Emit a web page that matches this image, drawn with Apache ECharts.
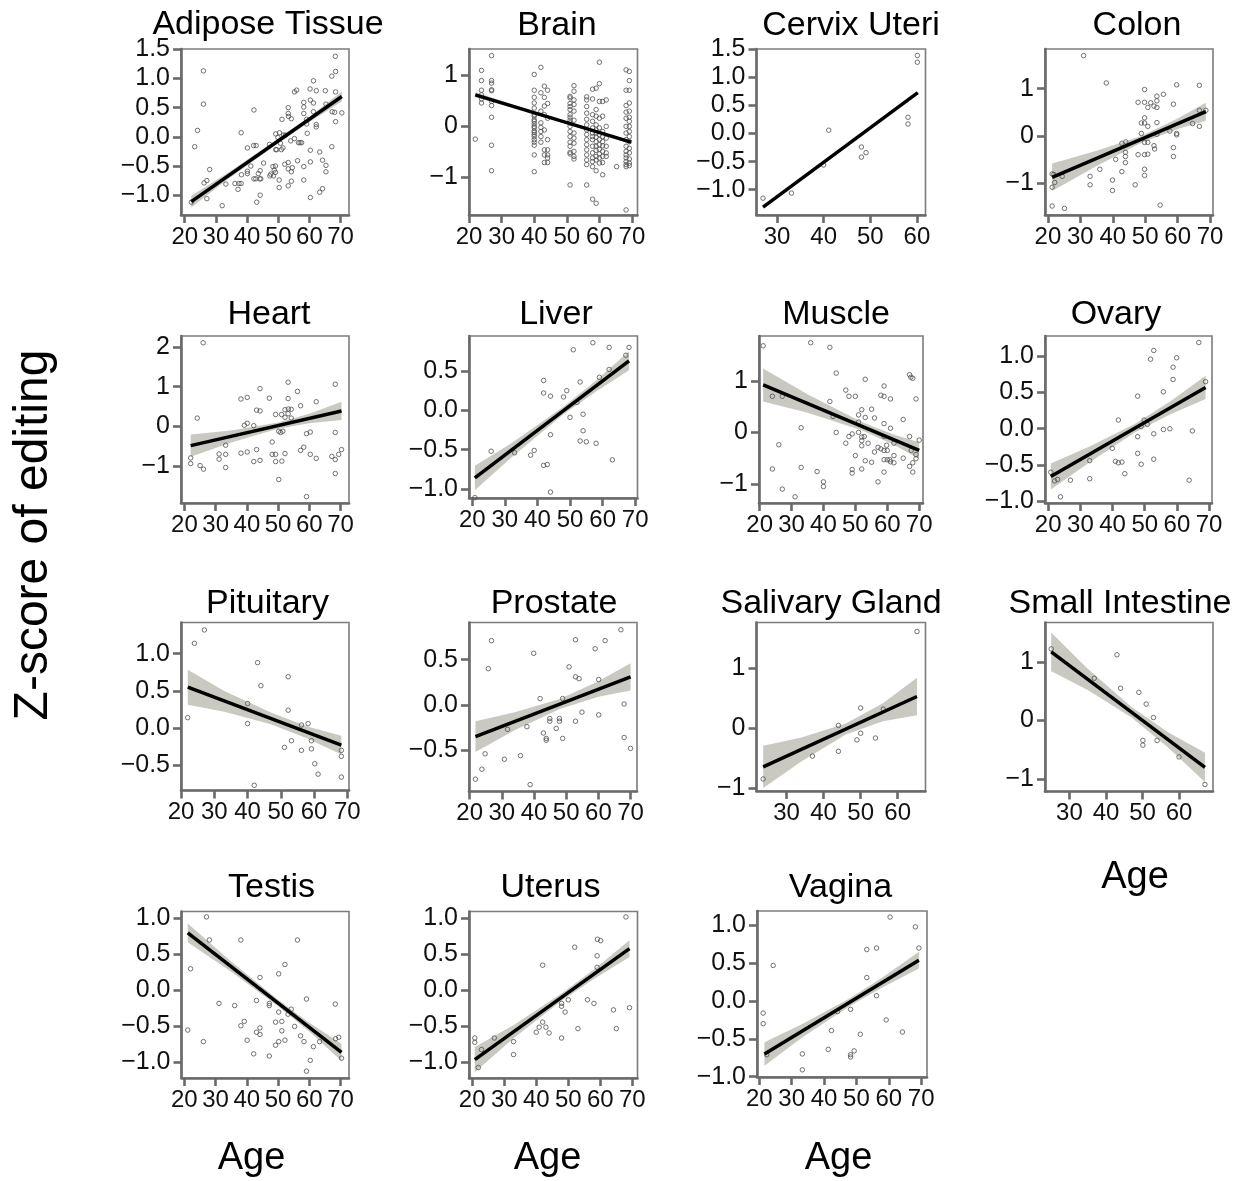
<!DOCTYPE html>
<html><head><meta charset="utf-8">
<script src="https://cdn.jsdelivr.net/npm/echarts@6/dist/echarts.min.js"></script>
<style>html,body{margin:0;padding:0;background:#fff}#c{width:1243px;height:1181px}</style>
</head><body><div id="c"></div><script>
// ---------------- DATA ----------------
const panelTitles = ['Adipose Tissue','Brain','Cervix Uteri','Colon','Heart','Liver','Muscle','Ovary','Pituitary','Prostate','Salivary Gland','Small Intestine','Testis','Uterus','Vagina'];
const ageTicksFull = [20,30,40,50,60,70];
const ageTicksShort = [30,40,50,60];
const zTicksA = [-1,-0.5,0,0.5,1,1.5];
const zTicksB = [-1,0,1];
const zTicksC = [-1,0,1,2];
const zTicksD = [-1,-0.5,0,0.5];
const zTicksE = [-1,-0.5,0,0.5,1];
const zTicksF = [-0.5,0,0.5,1];
const zTicksG = [-0.5,0,0.5];

const adiposePts = [[22.1,-1.12],[23.2,-0.17],[24.1,0.11],[26.0,1.13],[26.0,0.56],[26.2,-0.79],[27.1,-0.75],[27.1,-1.06],[28.0,-0.56],[32.0,-1.18],[33.2,-0.81],[36.1,-0.80],[37.1,-0.90],[37.4,-0.80],[38.1,-0.80],[38.1,0.07],[38.2,-0.65],[40.1,-0.19],[40.1,-0.63],[40.1,-0.59],[41.2,-0.50],[42.1,-0.15],[42.2,0.46],[42.9,-0.15],[42.2,-0.72],[42.8,-0.72],[43.1,-1.12],[43.6,-0.63],[44.1,-0.72],[44.2,-1.0],[44.4,-0.72],[44.2,-0.58],[45.3,-0.45],[47.2,-0.13],[47.3,-0.67],[47.6,-0.64],[48.3,-0.51],[48.5,-0.67],[48.7,-0.57],[49.1,-0.50],[49.1,-0.61],[49.2,-0.22],[49.5,-0.22],[49.2,0.05],[49.9,-0.01],[50.4,0.07],[50.3,-0.74],[50.3,-0.87],[50.7,-0.11],[51.0,-0.22],[51.2,0.30],[51.5,-0.19],[51.7,0.03],[52.1,-0.47],[52.3,0.03],[53.2,0.50],[53.2,0.40],[53.3,0.35],[53.2,-0.44],[53.2,-0.55],[53.2,-0.84],[54.0,-0.07],[54.2,0.31],[54.2,-0.60],[54.2,-0.76],[54.5,-0.53],[55.2,-0.03],[55.2,0.77],[55.9,0.80],[56.2,-0.41],[56.5,-0.10],[57.0,-0.10],[57.5,-0.10],[58.2,0.59],[58.2,0.51],[58.2,0.40],[58.2,-0.51],[58.2,-0.74],[59.1,0.30],[59.1,0.22],[59.3,0.06],[60.2,0.82],[60.3,0.63],[60.3,-0.23],[60.3,-0.43],[60.3,-1.04],[61.3,0.58],[61.3,0.96],[61.3,0.43],[62.2,0.79],[62.2,0.21],[62.2,0.17],[63.3,-0.26],[63.3,-0.95],[64.2,-0.89],[64.2,-0.40],[65.1,0.79],[65.3,-0.49],[65.3,-0.60],[65.3,0.56],[67.2,-0.17],[67.2,1.04],[67.3,0.43],[68.1,0.42],[68.3,1.38],[68.4,1.12],[68.4,0.77],[68.4,0.26],[70.4,0.41]];
const adiposeFit = [[22.1,-1.11],[70.4,0.69]];
const adiposeBand = [[22.1,-1.21,-1.01],[34,-0.72,-0.61],[50,-0.11,-0.03],[60,0.255,0.345],[70.4,0.605,0.775]];

const brainCols = [
 [21.9,[-0.25]],
 [23.8,[1.10,0.90,0.71,0.62,0.54,0.46]],
 [26.9,[1.39,0.90,0.85,0.72,0.70,0.49,0.41,0.18,-0.37,-0.87]],
 [40.0,[1.02,0.71,0.57,0.46,0.36,0.23,0.10,0.0,-0.09,-0.16,-0.26,-0.37,-0.56,-0.89,0.20,0.13,0.05,-0.03,-0.12,-0.20,-0.31]],
 [42.05,[1.16,0.66,0.30,0.07,-0.02,-0.10,-0.20,-0.31]],
 [43.1,[0.79,0.57,0.23,-0.07,-0.46,-0.56,-0.71,0.40]],
 [44.1,[0.71,0.45,0.16,-0.26,-0.46,-0.56,-0.71,-0.62]],
 [51.0,[0.59,0.56,0.45,0.39,0.33,0.23,0.18,0.12,0.07,0.0,-0.10,-0.20,-0.31,-0.39,-0.51,-0.54,-1.15]],
 [52.2,[0.80,0.69,0.52,0.43,0.30,0.12,-0.13,-0.23,-0.33,-0.49,-0.59,-0.64]],
 [56.1,[0.58,0.52,0.39,0.26,0.14,0.03,-0.07,-0.16,-0.26,-0.36,-0.46,-0.56,-0.66,-0.75,-1.15]],
 [57.9,[0.73,0.54,0.23,0.10,-0.03,-0.13,-0.20,-0.26,-0.39,-0.52,-0.62,-0.69,-0.79,-1.43]],
 [59.0,[0.75,0.33,0.20,0.03,-0.07,-0.13,-0.21,-0.30,-0.39,-0.47,-0.59,-0.66,-0.87,-1.51]],
 [60.0,[1.26,0.84,0.49,0.16,-0.03,-0.16,-0.26,-0.36,-0.45,-0.54,-0.62,-0.72]],
 [61.0,[0.49,0.20,-0.10,-0.20,-0.30,-0.38,-0.49,-0.59,-0.71,-0.95]],
 [62.1,[0.52,0.0,-0.23,-0.39,-0.52,-0.59]],
 [65.3,[-0.79]],
 [68.2,[1.11,0.71,0.41,0.28,0.16,0.0,-0.13,-0.26,-0.39,-0.49,-0.56,-0.62,-0.69,-0.75,-0.79,-1.64]],
 [69.2,[1.08,0.90,0.71,0.46,0.30,0.18,0.10,0.0,-0.10,-0.20,-0.30,-0.43,-0.52,-0.64,-0.72,-0.77]]
];
const brainFit = [[21.9,0.62],[69.7,-0.31]];
const brainBand = [[21.9,0.57,0.67],[45,0.15,0.19],[69.7,-0.345,-0.275]];

const cervixPts = [[27.0,-1.15],[33.1,-1.06],[40.0,-0.56],[41.1,0.06],[48.1,-0.24],[48.1,-0.42],[49.1,-0.34],[58.1,0.29],[58.1,0.17],[60.1,1.39],[60.1,1.27]];
const cervixFit = [[27.0,-1.31],[60.2,0.73]];
const cervixBand = [];

const colonPts = [[31.0,1.70],[38.0,1.12],[21.3,-0.81],[21.8,-0.82],[22.1,-0.99],[21.3,-1.09],[21.3,-1.49],[25.1,-1.54],[24.4,-0.86],[33.0,-0.86],[33.0,-1.04],[36.0,-0.71],[39.9,-0.94],[39.9,-1.16],[40.9,-0.50],[42.8,-0.76],[42.8,-0.16],[44.0,-0.13],[43.9,-0.35],[43.9,-0.44],[43.9,-0.57],[46.9,-1.04],[47.8,0.71],[47.8,-0.40],[48.8,0.05],[48.8,0.27],[49.8,0.98],[49.8,0.71],[49.8,0.38],[49.8,0.27],[49.8,-0.14],[49.8,-0.40],[49.8,-0.71],[49.8,-0.84],[50.8,0.60],[50.8,0.20],[50.8,-0.14],[50.8,-0.39],[51.7,0.70],[52.7,0.63],[52.7,-0.21],[52.9,-0.28],[53.6,0.60],[53.6,0.74],[53.6,0.84],[53.6,0.28],[53.6,0.03],[54.6,-1.47],[55.6,0.88],[57.6,0.10],[58.7,0.67],[58.7,-0.25],[58.7,-0.44],[59.7,1.08],[59.7,0.05],[59.7,0.02],[64.6,0.26],[66.7,1.07],[66.7,0.54],[66.7,0.20],[68.7,0.54]];
const colonFit = [[21.3,-0.88],[68.7,0.51]];
const colonBand = [[21.3,-1.17,-0.59],[35,-0.64,-0.32],[49,-0.14,0.0],[60,0.145,0.365],[68.7,0.32,0.70]];

const heartPts = [[26.0,2.10],[22.0,-0.79],[22.0,-0.93],[24.1,0.21],[25.0,-0.98],[26.1,-1.07],[31.1,-0.69],[31.1,-0.82],[33.2,-0.47],[33.2,-0.70],[33.2,-1.03],[38.1,0.69],[38.1,-0.67],[39.2,0.03],[40.1,0.73],[40.1,0.08],[40.1,-0.64],[42.2,0.02],[42.2,-0.88],[43.1,0.41],[43.1,-0.58],[44.2,0.95],[44.2,0.39],[44.2,-0.85],[47.2,0.71],[48.1,-0.39],[48.1,-0.70],[49.2,0.30],[49.2,-0.70],[49.2,-0.88],[50.2,-0.12],[50.2,-1.33],[50.8,-0.15],[51.1,0.30],[51.2,-0.87],[51.5,-0.12],[52.2,0.23],[52.2,0.42],[52.2,-0.68],[53.2,1.11],[53.2,0.70],[53.2,0.32],[53.3,0.44],[54.2,0.43],[54.2,0.21],[56.2,0.88],[57.2,0.52],[57.2,-0.60],[58.2,-0.52],[59.1,-0.18],[59.1,-1.76],[60.3,-0.14],[60.3,-0.70],[62.2,0.62],[62.2,-0.80],[67.2,-0.75],[68.3,1.06],[68.3,-0.15],[68.3,-0.83],[68.3,-1.18],[69.4,-0.70],[70.3,-0.58]];
const heartFit = [[22.0,-0.48],[70.3,0.39]];
const heartBand = [[22,-0.76,-0.20],[35,-0.40,-0.10],[50,-0.06,0.10],[60,0.08,0.32],[70.3,0.16,0.62]];

const liverPts = [[20.8,-1.11],[25.8,-0.52],[33.0,-0.54],[37.9,-0.57],[39.0,-0.51],[41.9,0.38],[41.9,0.22],[41.9,-0.70],[43.0,-0.69],[44.0,0.18],[44.0,-0.31],[44.0,-1.04],[48.0,0.17],[49.0,0.25],[50.0,-0.09],[51.0,0.77],[52.1,0.10],[53.1,0.36],[53.1,-0.39],[54.0,-0.05],[54.0,-0.26],[55.0,-0.40],[57.0,0.86],[58.0,-0.42],[59.0,0.42],[62.0,0.80],[62.0,0.52],[63.0,-0.63],[67.1,0.70],[68.1,0.80]];
const liverFit = [[20.8,-0.86],[68.1,0.63]];
const liverBand = [[20.8,-1.015,-0.705],[32,-0.60,-0.42],[48,-0.05,0.045],[58,0.24,0.38],[68.1,0.51,0.75]];

const musclePts = [[21.1,1.68],[24.0,0.70],[24.0,-0.71],[26.0,-0.24],[27.1,0.70],[27.1,-1.10],[31.1,-1.25],[33.0,0.09],[33.0,-0.68],[36.0,1.74],[38.0,-0.76],[40.0,-0.96],[40.0,-1.05],[42.0,1.65],[42.0,0.60],[43.0,0.31],[44.0,1.15],[44.0,0.0],[47.0,0.82],[47.0,-0.21],[48.0,0.70],[48.0,-0.08],[49.0,-0.03],[49.0,-0.72],[49.0,-0.79],[50.0,0.70],[50.0,-0.45],[51.0,0.34],[51.0,0.20],[51.0,0.0],[52.0,0.44],[52.0,-0.09],[52.0,-0.16],[52.0,-0.26],[52.0,-0.71],[52.8,-0.08],[53.1,1.03],[53.1,0.29],[53.1,-0.55],[54.0,-0.21],[55.1,0.45],[55.1,-0.58],[56.0,0.28],[56.0,-0.38],[57.1,-0.29],[57.1,-0.96],[58.0,0.72],[58.0,-0.32],[59.0,0.90],[59.0,0.70],[59.0,0.17],[59.0,-0.08],[59.0,-0.35],[59.0,-0.53],[59.0,-0.77],[59.8,-0.25],[60.0,-0.35],[60.0,-0.53],[60.8,-0.53],[61.0,0.65],[61.0,0.08],[61.0,-0.57],[62.1,-0.59],[62.1,-0.45],[62.1,-0.21],[65.0,0.25],[65.0,-0.50],[67.0,1.12],[67.4,1.07],[68.0,1.05],[67.0,-0.08],[67.0,-0.66],[68.0,-0.59],[68.0,-0.77],[69.0,0.65],[69.0,-0.43],[69.0,-0.51],[70.0,-0.15],[67.5,-0.35]];
const muscleFit = [[21.1,0.92],[70.0,-0.35]];
const muscleBand = [[21.1,0.60,1.24],[35,0.38,0.74],[52,0.04,0.20],[62,-0.24,-0.04],[70,-0.51,-0.19]];

const ovaryPts = [[20.8,-0.60],[22.0,-0.72],[22.9,-0.70],[23.8,-0.94],[26.9,-0.71],[32.9,-0.44],[32.9,-0.69],[39.9,-0.27],[40.9,-0.45],[41.8,0.12],[41.8,-0.47],[42.9,-0.46],[43.8,-0.62],[47.8,0.45],[47.8,-0.11],[47.8,-0.34],[48.9,0.03],[48.9,-0.49],[49.8,0.12],[50.8,0.06],[51.8,0.96],[52.8,1.08],[52.8,-0.07],[52.8,-0.42],[55.8,0.51],[55.8,-0.01],[57.8,0.0],[58.8,0.85],[58.8,0.68],[59.9,0.98],[63.8,-0.71],[64.8,-0.03],[66.8,1.19],[68.9,0.65]];
const ovaryFit = [[20.8,-0.66],[68.9,0.57]];
const ovaryBand = [[20.8,-0.84,-0.48],[33,-0.46,-0.24],[47,-0.05,0.07],[58,0.20,0.38],[68.9,0.41,0.73]];

const pituitaryPts = [[22.0,0.14],[24.0,1.14],[27.0,1.32],[40.0,0.33],[40.0,0.06],[42.0,-0.77],[43.0,0.88],[44.0,0.57],[51.1,-0.26],[52.2,0.69],[52.2,0.24],[53.2,-0.17],[56.2,0.04],[56.2,-0.30],[58.2,0.06],[59.2,-0.17],[59.2,-0.28],[60.2,-0.48],[61.2,-0.62],[68.2,-0.30],[68.2,-0.38],[68.2,-0.66]];
const pituitaryFit = [[22.0,0.55],[68.2,-0.23]];
const pituitaryBand = [[22,0.315,0.785],[33,0.22,0.50],[47,0.05,0.21],[58,-0.14,0.02],[68.2,-0.355,-0.105]];

const prostatePts = [[21.8,-0.82],[23.8,-0.71],[24.8,-0.54],[25.8,0.40],[26.8,0.71],[30.8,-0.60],[31.8,-0.27],[35.8,-0.56],[37.8,-0.24],[38.8,-0.88],[39.9,0.57],[41.9,0.07],[42.9,-0.31],[43.8,-0.37],[43.8,-0.39],[44.9,-0.15],[44.9,-0.18],[46.9,-0.26],[47.9,-0.15],[47.9,-0.18],[48.9,-0.37],[48.9,0.07],[50.9,0.42],[52.9,0.72],[52.9,0.31],[54.0,0.29],[52.9,-0.18],[54.9,-0.08],[59.0,0.62],[60.1,0.28],[60.1,-0.11],[62.1,0.71],[67.0,0.83],[68.0,0.01],[68.0,-0.36],[70.0,-0.48]];
const prostateFit = [[21.8,-0.35],[70.0,0.31]];
const prostateBand = [[21.8,-0.52,-0.18],[34,-0.28,-0.08],[48,-0.045,0.065],[60,0.09,0.26],[70,0.16,0.46]];

const salivaryPts = [[23.7,-0.84],[37.0,-0.46],[44.0,0.05],[44.0,-0.38],[49.0,-0.19],[50.0,0.34],[50.0,-0.08],[54.0,-0.16],[56.1,0.32],[65.2,1.61]];
const salivaryFit = [[23.7,-0.64],[65.2,0.53]];
const salivaryBand = [[23.7,-0.99,-0.29],[34,-0.55,-0.15],[46,-0.10,0.08],[56,0.12,0.42],[65.2,0.22,0.84]];

const smallIntPts = [[25.0,1.22],[36.8,0.72],[43.0,1.12],[44.0,0.55],[49.0,0.48],[51.0,0.28],[50.1,-0.34],[50.1,-0.42],[53.0,0.05],[54.0,-0.34],[60.0,-0.62],[67.1,-1.09]];
const smallIntFit = [[25.0,1.17],[67.1,-0.80]];
const smallIntBand = [[25,0.84,1.50],[35,0.52,0.88],[47,0.05,0.23],[57,-0.46,-0.20],[67.1,-1.05,-0.55]];

const testisPts = [[21.1,-0.55],[22.0,0.30],[26.1,-0.71],[27.1,1.02],[28.0,0.70],[31.1,-0.18],[36.1,-0.21],[38.1,0.70],[38.1,-0.49],[39.2,-0.43],[40.1,-0.69],[42.2,-0.88],[43.1,-0.14],[43.1,-0.58],[44.2,0.18],[44.2,-0.52],[44.2,-0.61],[47.2,-0.18],[47.2,-0.21],[47.2,-0.91],[49.2,-0.44],[49.2,-0.76],[50.2,0.23],[50.2,-0.30],[50.2,-0.71],[51.2,-0.43],[51.2,-0.56],[52.2,0.36],[52.2,-0.69],[53.2,-0.33],[54.2,-0.26],[55.3,-0.50],[56.2,0.70],[57.2,-0.63],[58.3,-0.71],[59.1,-0.12],[59.1,-1.12],[60.3,-0.97],[61.3,-0.78],[63.3,-0.71],[68.3,-0.19],[68.4,-0.67],[69.4,-0.65],[70.3,-0.94]];
const testisFit = [[21.1,0.80],[70.3,-0.86]];
const testisBand = [[21.1,0.67,0.93],[35,0.26,0.40],[50,-0.22,-0.13],[60,-0.57,-0.45],[70.3,-0.98,-0.74]];

const uterusPts = [[20.8,-0.66],[20.8,-0.72],[21.9,-1.07],[22.9,-0.82],[26.9,-0.66],[32.9,-0.71],[32.9,-0.89],[40.0,-0.58],[40.9,-0.51],[42.0,0.35],[42.0,-0.44],[43.0,-0.51],[44.0,-0.59],[47.9,-0.18],[47.9,-0.22],[47.9,-0.66],[49.0,-0.30],[50.0,-0.13],[52.0,0.60],[53.0,-0.53],[56.0,-0.13],[58.0,-0.18],[59.0,0.48],[59.0,0.32],[59.1,0.71],[60.1,0.69],[64.1,-0.27],[65.0,-0.53],[68.0,1.02],[69.1,-0.24]];
const uterusFit = [[20.8,-0.96],[69.1,0.58]];
const uterusBand = [[20.8,-1.135,-0.785],[33,-0.66,-0.48],[48,-0.14,-0.04],[58,0.16,0.29],[69.1,0.465,0.695]];

const vaginaPts = [[21.2,-0.16],[21.2,-0.30],[22.3,-0.71],[24.3,0.47],[33.3,-0.70],[33.3,-0.91],[41.3,-0.64],[42.3,-0.39],[44.2,-0.14],[48.2,-0.11],[48.2,-0.71],[48.2,-0.74],[49.3,-0.66],[51.2,-0.44],[53.2,0.68],[53.2,0.31],[56.2,0.70],[56.2,0.07],[59.2,-0.25],[60.4,1.11],[64.2,-0.41],[68.2,0.98],[69.3,0.70]];
const vaginaFit = [[21.6,-0.70],[69.3,0.54]];
const vaginaBand = [[21.6,-0.855,-0.545],[33,-0.49,-0.31],[48,-0.065,0.035],[58,0.18,0.31],[69.3,0.43,0.65]];

// ---------------- LAYOUT ----------------
const brainPts = [];
brainCols.forEach(c => c[1].forEach(z => brainPts.push([c[0], z])));

const FONT = '"Liberation Sans", Arial, Helvetica, sans-serif';
const panels = [
 {pts:adiposePts, fit:adiposeFit, band:adiposeBand, box:[181,49,168,166], xr:[18.8,72.7], yr:[-1.34,1.505], xt:ageTicksFull, yt:zTicksA, d:1, tx:268, ty:25},
 {pts:brainPts, fit:brainFit, band:brainBand, box:[469,49,168.5,166], xr:[19.97,71.7], yr:[-1.74,1.52], xt:ageTicksFull, yt:zTicksB, d:0, tx:557, ty:26},
 {pts:cervixPts, fit:cervixFit, band:cervixBand, box:[756.5,49,169,166], xr:[25.6,61.85], yr:[-1.45,1.505], xt:ageTicksShort, yt:zTicksA, d:1, tx:851, ty:26},
 {pts:colonPts, fit:colonFit, band:colonBand, box:[1045,49,168,166], xr:[19.1,70.9], yr:[-1.68,1.84], xt:ageTicksFull, yt:zTicksB, d:0, tx:1137, ty:26},
 {pts:heartPts, fit:heartFit, band:heartBand, box:[181,336,168,167], xr:[18.9,72.7], yr:[-1.92,2.27], xt:ageTicksFull, yt:zTicksC, d:0, tx:269, ty:314.5},
 {pts:liverPts, fit:liverFit, band:liverBand, box:[469,336,168.5,162], xr:[19.0,70.7], yr:[-1.115,0.945], xt:ageTicksFull, yt:zTicksD, d:1, tx:556, ty:314.5},
 {pts:musclePts, fit:muscleFit, band:muscleBand, box:[759,336,164,167], xr:[19.8,71.2], yr:[-1.37,1.87], xt:ageTicksFull, yt:zTicksB, d:0, tx:836, ty:314.5},
 {pts:ovaryPts, fit:ovaryFit, band:ovaryBand, box:[1045,336,167,167], xr:[19.0,70.9], yr:[-1.025,1.28], xt:ageTicksFull, yt:zTicksE, d:1, tx:1116, ty:314.5},
 {pts:pituitaryPts, fit:pituitaryFit, band:pituitaryBand, box:[181,622.5,168,168], xr:[19.97,70.5], yr:[-0.84,1.42], xt:ageTicksFull, yt:zTicksF, d:1, tx:267.5, ty:604},
 {pts:prostatePts, fit:prostateFit, band:prostateBand, box:[469,622.5,168,169], xr:[19.8,72.0], yr:[-0.956,0.91], xt:ageTicksFull, yt:zTicksG, d:1, tx:554, ty:604},
 {pts:salivaryPts, fit:salivaryFit, band:salivaryBand, box:[756.5,622.5,169,168.5], xr:[21.9,67.5], yr:[-1.04,1.76], xt:ageTicksShort, yt:zTicksB, d:0, tx:831, ty:604},
 {pts:smallIntPts, fit:smallIntFit, band:smallIntBand, box:[1045,622.5,168,169], xr:[23.3,69.3], yr:[-1.21,1.67], xt:ageTicksShort, yt:zTicksB, d:0, tx:1120, ty:604},
 {pts:testisPts, fit:testisFit, band:testisBand, box:[181.5,911.5,167.5,166.5], xr:[19.1,72.7], yr:[-1.215,1.095], xt:ageTicksFull, yt:zTicksE, d:1, tx:271.5, ty:887.5},
 {pts:uterusPts, fit:uterusFit, band:uterusBand, box:[469,911.5,168.5,166.5], xr:[19.0,71.6], yr:[-1.215,1.095], xt:ageTicksFull, yt:zTicksE, d:1, tx:550.5, ty:887.5},
 {pts:vaginaPts, fit:vaginaFit, band:vaginaBand, box:[757,911,170,166], xr:[19.3,71.8], yr:[-1.005,1.19], xt:ageTicksFull, yt:zTicksE, d:1, tx:840.5, ty:887.5}
];

const AXC = '#6a6a6a';
const grids = [], xAxes = [], yAxes = [], series = [], graphics = [];
const fmt = (v, d) => (v < 0 ? '\u2212' : '') + Math.abs(v).toFixed(d);

panels.forEach((p, i) => {
  grids.push({left:p.box[0], top:p.box[1], width:p.box[2], height:p.box[3], show:true, borderColor:'#7c7c7c', borderWidth:1.6, backgroundColor:'#fff'});
  xAxes.push({type:'value', gridIndex:i, min:p.xr[0], max:p.xr[1],
    axisLine:{show:true, onZero:false, lineStyle:{color:AXC, width:2.6}},
    axisTick:{show:true, length:8, customValues:p.xt, lineStyle:{color:AXC, width:2.6}},
    axisLabel:{customValues:p.xt, fontSize:24, fontFamily:FONT, color:'#111', margin:10, formatter:v => String(v)},
    splitLine:{show:false}});
  yAxes.push({type:'value', gridIndex:i, min:p.yr[0], max:p.yr[1],
    axisLine:{show:true, onZero:false, lineStyle:{color:AXC, width:2.6}},
    axisTick:{show:true, length:8, customValues:p.yt, lineStyle:{color:AXC, width:2.6}},
    axisLabel:{customValues:p.yt, fontSize:25, fontFamily:FONT, color:'#111', margin:11, formatter:v => fmt(v, p.d)},
    splitLine:{show:false}});
  if (p.band.length) {
    const band = p.band;
    series.push({type:'custom', xAxisIndex:i, yAxisIndex:i, z:1, silent:true, data:[[band[0][0], band[0][1]]],
      renderItem:(params, api) => {
        const up = band.map(b => api.coord([b[0], b[2]]));
        const lo = band.slice().reverse().map(b => api.coord([b[0], b[1]]));
        const cs = params.coordSys;
        const pts = echarts.graphic.clipPointsByRect(up.concat(lo), {x:cs.x, y:cs.y, width:cs.width, height:cs.height});
        return {type:'polygon', shape:{points:pts}, style:{fill:'#c9c9c1'}};
      }});
  }
  series.push({type:'scatter', xAxisIndex:i, yAxisIndex:i, z:2, data:p.pts, symbol:'circle', symbolSize:4.5,
    itemStyle:{color:'rgba(255,255,255,0)', borderColor:'#505050', borderWidth:1}, silent:true});
  series.push({type:'line', xAxisIndex:i, yAxisIndex:i, z:3, data:p.fit, showSymbol:false, symbol:'none',
    lineStyle:{color:'#000', width:3.5}, silent:true});
  graphics.push({type:'text', x:p.tx, y:p.ty, style:{text:panelTitles[i], font:'34px ' + FONT, fill:'#000', align:'center', verticalAlign:'middle'}});
});

const axisTitleX = 'Age';
const axisTitleY = 'Z-score of editing';
[[251.5,1159],[547.5,1159],[838.5,1159],[1135,878]].forEach(pos => {
  graphics.push({type:'text', x:pos[0], y:pos[1], style:{text:axisTitleX, font:'38px ' + FONT, fill:'#000', align:'center', verticalAlign:'middle'}});
});
graphics.push({type:'text', x:34, y:535, rotation:Math.PI/2, style:{text:axisTitleY, font:'48px ' + FONT, fill:'#000', align:'center', verticalAlign:'middle'}});

const chart = echarts.init(document.getElementById('c'), null, {renderer:'canvas', width:1243, height:1181});
chart.setOption({animation:false, backgroundColor:'#fff', grid:grids, xAxis:xAxes, yAxis:yAxes, series:series, graphic:graphics});
</script></body></html>
